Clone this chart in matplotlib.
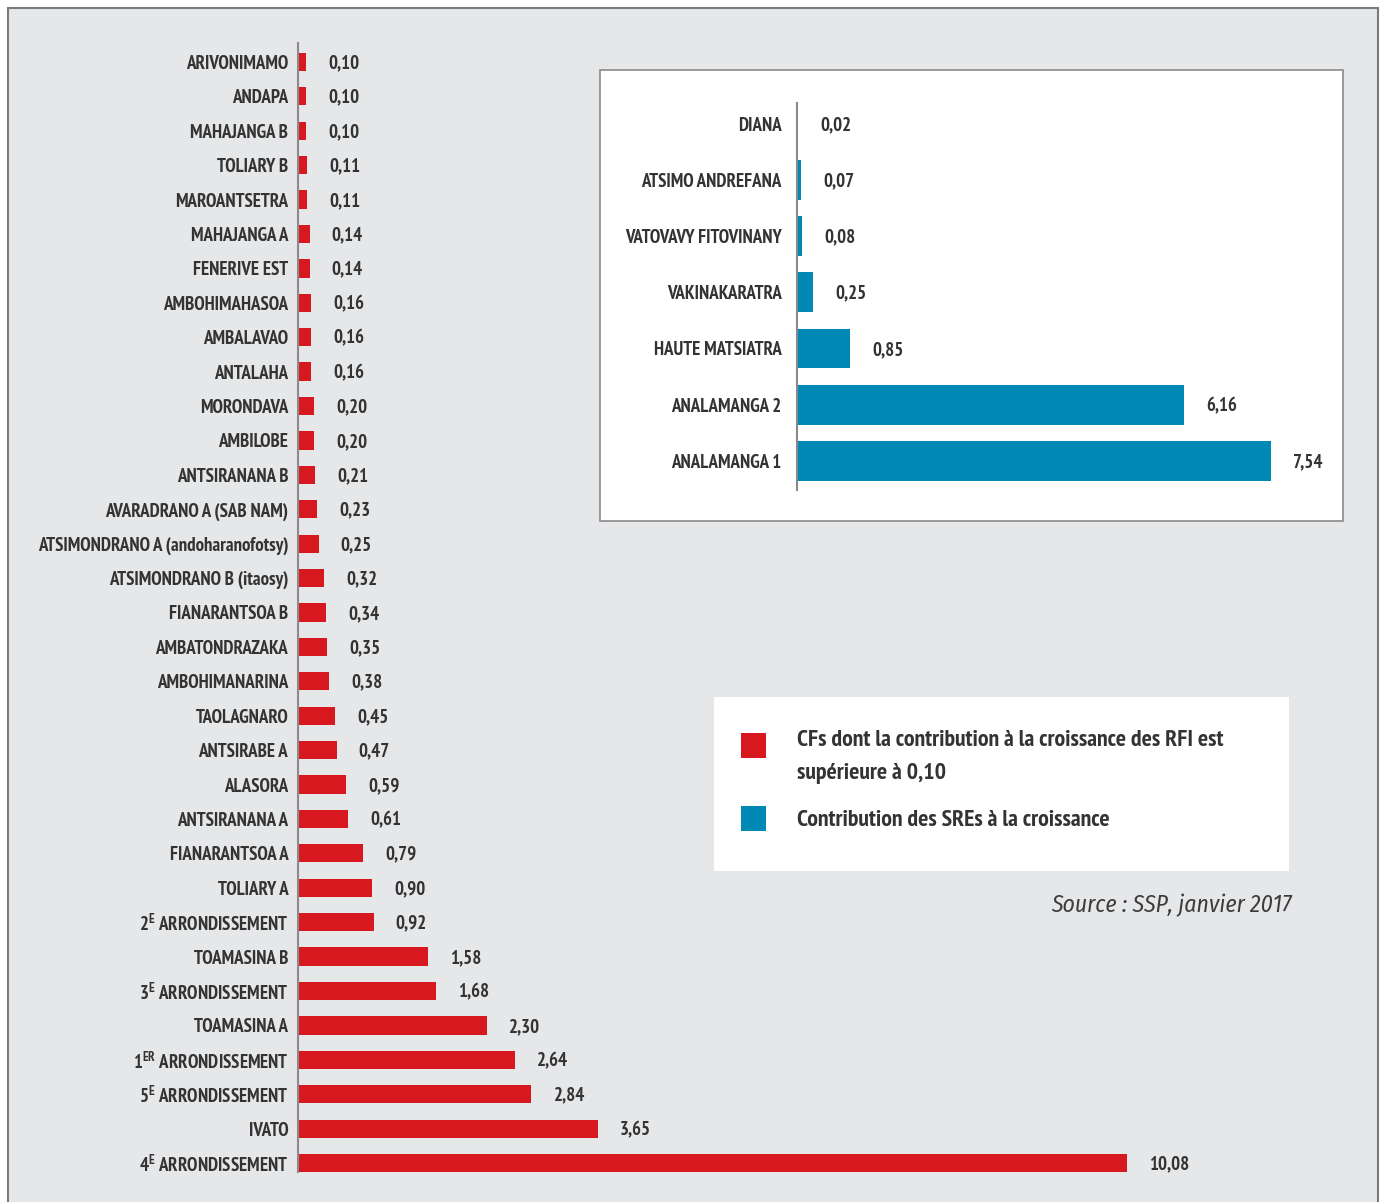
import matplotlib.pyplot as plt
from matplotlib.patches import Rectangle
from matplotlib import font_manager

avail = set((f.name, f.style) for f in font_manager.fontManager.ttflist)
names = set(n for n, s in avail)
FONT = next((f for f in ['Myriad Pro', 'PT Sans Narrow', 'Fira Sans Condensed',
                         'Asap Condensed', 'Roboto Condensed', 'Barlow Condensed']
             if f in names), 'DejaVu Sans')
IFONT = next((f for f in ['Myriad Pro', 'Fira Sans Condensed', 'Asap Condensed',
                          'Roboto Condensed', 'Barlow Condensed', 'Sofia Sans Condensed']
              if (f, 'italic') in avail), FONT)
plt.rcParams['font.family'] = [FONT, 'DejaVu Sans']
plt.rcParams['mathtext.fontset'] = 'custom'
plt.rcParams['mathtext.rm'] = FONT + ':heavy'
plt.rcParams['mathtext.it'] = FONT + ':heavy'
plt.rcParams['mathtext.bf'] = FONT + ':heavy'

# CF data (top to bottom)
cf_names = ["ARIVONIMAMO", "ANDAPA", "MAHAJANGA B", "TOLIARY B", "MAROANTSETRA",
            "MAHAJANGA A", "FENERIVE EST", "AMBOHIMAHASOA", "AMBALAVAO", "ANTALAHA",
            "MORONDAVA", "AMBILOBE", "ANTSIRANANA B", "AVARADRANO A (SAB NAM)",
            "ATSIMONDRANO A (andoharanofotsy)", "ATSIMONDRANO B (itaosy)",
            "FIANARANTSOA B", "AMBATONDRAZAKA", "AMBOHIMANARINA", "TAOLAGNARO",
            "ANTSIRABE A", "ALASORA", "ANTSIRANANA A", "FIANARANTSOA A", "TOLIARY A",
            r"2$^{\mathrm{E}}$ ARRONDISSEMENT", "TOAMASINA B",
            r"3$^{\mathrm{E}}$ ARRONDISSEMENT", "TOAMASINA A",
            r"1$^{\mathrm{ER}}$ ARRONDISSEMENT", r"5$^{\mathrm{E}}$ ARRONDISSEMENT",
            "IVATO", r"4$^{\mathrm{E}}$ ARRONDISSEMENT"]
cf_values = [0.10, 0.10, 0.10, 0.11, 0.11, 0.14, 0.14, 0.16, 0.16, 0.16, 0.20, 0.20,
             0.21, 0.23, 0.25, 0.32, 0.34, 0.35, 0.38, 0.45, 0.47, 0.59, 0.61, 0.79,
             0.90, 0.92, 1.58, 1.68, 2.30, 2.64, 2.84, 3.65, 10.08]

# SRE data (top to bottom)
sre_names = ["DIANA", "ATSIMO ANDREFANA", "VATOVAVY FITOVINANY", "VAKINAKARATRA",
             "HAUTE MATSIATRA", "ANALAMANGA 2", "ANALAMANGA 1"]
sre_values = [0.02, 0.07, 0.08, 0.25, 0.85, 6.16, 7.54]

RED = '#d7181f'
BLUE = '#0089b5'
TXT = '#333333'
BG = '#e6e7e9'
W, H = 1383, 1202
FS = 13.6

def fmt(v):
    return f"{v:.2f}".replace('.', ',')

fig = plt.figure(figsize=(W / 100, H / 100), dpi=100, facecolor='white')
fig.patches.append(Rectangle((8 / W, -0.01), (1378 - 8) / W, (H - 8) / H + 0.01,
                             transform=fig.transFigure, facecolor=BG,
                             edgecolor='#7a7a7a', linewidth=1.5, zorder=-10))

# main chart
ax = fig.add_axes([298 / W, 30 / H, 13 * 82.2 / W, 1129 / H])
ax.set_facecolor('none')
y = range(len(cf_names))
ax.barh(y, cf_values, height=0.53, color=RED)
ax.set_ylim(32.26, -0.55)
ax.set_xlim(0, 13)
ax.set_yticks(list(y))
ax.set_yticklabels(cf_names, fontsize=FS, fontweight='heavy', color=TXT)
ax.tick_params(axis='y', length=0, pad=7)
ax.set_xticks([])
for s in ['top', 'right', 'bottom']:
    ax.spines[s].set_visible(False)
ax.spines['left'].set_color('#8a8a8a')
ax.spines['left'].set_linewidth(1.5)
for i, v in enumerate(cf_values):
    ax.annotate(fmt(v), (v, i), xytext=(16, -1), textcoords='offset points',
                va='center', ha='left', fontsize=FS, fontweight='heavy', color=TXT)

# inset box
fig.patches.append(Rectangle((600 / W, 1 - 521 / H), 743 / W, 451 / H,
                             transform=fig.transFigure, facecolor='white',
                             edgecolor='#8a8a8a', linewidth=1.2, zorder=-5))
ax2 = fig.add_axes([797 / W, 1 - 490 / H, 8.5 * 62.9 / W, 387 / H])
ax2.set_facecolor('none')
y2 = range(len(sre_names))
ax2.barh(y2, sre_values, height=0.71, color=BLUE)
ax2.set_ylim(6.52, -0.37)
ax2.set_xlim(0, 8.5)
ax2.set_yticks(list(y2))
ax2.set_yticklabels(sre_names, fontsize=FS, fontweight='heavy', color=TXT)
ax2.tick_params(axis='y', length=0, pad=11)
ax2.set_xticks([])
for s in ['top', 'right', 'bottom']:
    ax2.spines[s].set_visible(False)
ax2.spines['left'].set_color('#8a8a8a')
ax2.spines['left'].set_linewidth(1.5)
for i, v in enumerate(sre_values):
    ax2.annotate(fmt(v), (v, i), xytext=(16, -1), textcoords='offset points',
                 va='center', ha='left', fontsize=FS, fontweight='heavy', color=TXT)

# legend box
fig.patches.append(Rectangle((714 / W, 1 - 871 / H), 575 / W, 174 / H,
                             transform=fig.transFigure, facecolor='white',
                             edgecolor='none', zorder=-5))
fig.patches.append(Rectangle((741 / W, 1 - 758 / H), 25 / W, 25 / H,
                             transform=fig.transFigure, facecolor=RED, edgecolor='none'))
fig.patches.append(Rectangle((741 / W, 1 - 831 / H), 25 / W, 25 / H,
                             transform=fig.transFigure, facecolor=BLUE, edgecolor='none'))
fig.text(797 / W, 1 - 740 / H, "CFs dont la contribution à la croissance des RFI est",
         fontsize=17.2, fontweight='heavy', color=TXT, va='center', ha='left')
fig.text(797 / W, 1 - 773 / H, "supérieure à 0,10",
         fontsize=17.2, fontweight='heavy', color=TXT, va='center', ha='left')
fig.text(797 / W, 1 - 821 / H, "Contribution des SREs à la croissance",
         fontsize=17.2, fontweight='heavy', color=TXT, va='center', ha='left')

fig.text(1292 / W, 1 - 905 / H, "Source : SSP, janvier 2017", fontsize=17,
         family=IFONT, style='italic', fontweight='normal', color='#3c3c3c',
         va='center', ha='right')

fig.savefig('out.png', dpi=100, facecolor='white')
